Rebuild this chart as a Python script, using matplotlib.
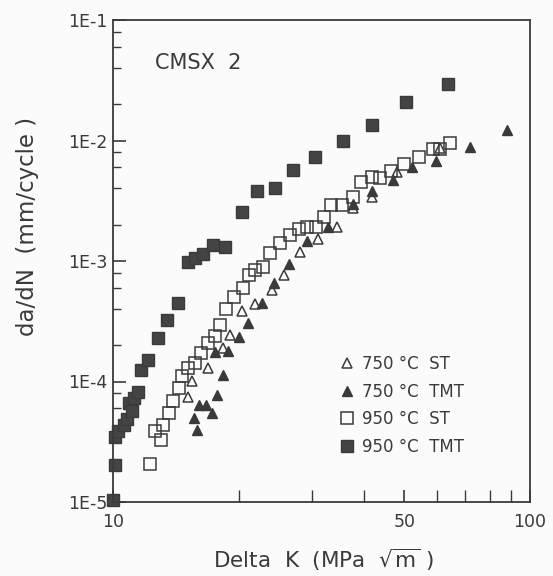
import matplotlib
matplotlib.use("Agg")
import matplotlib.pyplot as plt
from matplotlib.ticker import FixedLocator, NullFormatter, FixedFormatter

# ---- data (Delta K in MPa*sqrt(m), da/dN in mm/cycle) ----
tmt950_dk = [10.0, 10.1, 10.1, 10.3, 10.6, 10.8, 10.9, 11.1, 11.2, 11.5, 11.7, 12.1,
             12.8, 13.5, 14.3, 15.1, 15.7, 16.4, 17.4, 18.6, 20.4, 22.1, 24.5, 27.0,
             30.5, 35.6, 41.8, 50.5, 63.6]
tmt950_dadn = [1.04e-5, 2.03e-5, 3.46e-5, 3.88e-5, 4.36e-5, 4.89e-5, 6.63e-5, 5.69e-5,
               7.3e-5, 8.2e-5, 1.25e-4, 1.51e-4, 2.30e-4, 3.24e-4, 4.48e-4, 9.8e-4,
               1.06e-3, 1.14e-3, 1.36e-3, 1.31e-3, 2.55e-3, 3.81e-3, 4.03e-3, 5.69e-3,
               7.29e-3, 9.9e-3, 1.35e-2, 2.09e-2, 2.94e-2]

st950_dk = [12.3, 12.6, 13.0, 13.2, 13.6, 13.9, 14.4, 14.6, 15.1, 15.7, 16.3, 16.9,
            17.6, 18.1, 18.7, 19.5, 20.5, 21.2, 21.9, 22.9, 23.8, 25.1, 26.6, 27.9,
            29.2, 30.7, 32.1, 33.3, 35.4, 37.6, 39.4, 41.8, 43.7, 46.4, 49.9, 54.2,
            58.5, 60.8, 64.3]
st950_dadn = [2.07e-5, 3.88e-5, 3.27e-5, 4.36e-5, 5.48e-5, 6.89e-5, 8.83e-5, 1.11e-4,
              1.29e-4, 1.43e-4, 1.73e-4, 2.09e-4, 2.39e-4, 2.94e-4, 4.0e-4, 5.02e-4,
              5.97e-4, 7.66e-4, 8.41e-4, 8.91e-4, 1.16e-3, 1.41e-3, 1.64e-3, 1.84e-3,
              1.92e-3, 1.92e-3, 2.32e-3, 2.92e-3, 2.92e-3, 3.40e-3, 4.53e-3, 4.98e-3,
              4.89e-3, 5.58e-3, 6.38e-3, 7.29e-3, 8.5e-3, 8.5e-3, 9.53e-3]

tmt750_dk = [15.9, 15.6, 16.1, 16.7, 17.3, 17.8, 18.4, 17.6, 18.9, 20.0, 21.1, 22.8,
             24.3, 26.4, 29.2, 32.8, 37.6, 41.8, 46.9, 52.1, 59.5, 71.8, 88.1]
tmt750_dadn = [3.96e-5, 4.98e-5, 6.38e-5, 6.38e-5, 5.48e-5, 7.73e-5, 1.13e-4, 1.76e-4,
               1.79e-4, 2.34e-4, 3.06e-4, 4.48e-4, 6.56e-4, 9.44e-4, 1.47e-3, 1.91e-3,
               2.97e-3, 3.81e-3, 4.70e-3, 6.03e-3, 6.76e-3, 8.83e-3, 1.22e-2]

st750_dk = [15.1, 15.5, 16.9, 18.4, 19.1, 20.4, 21.9, 24.1, 25.7, 28.1, 31.0, 34.5,
            37.6, 41.8, 48.0, 60.8]
st750_dadn = [7.43e-5, 1.01e-4, 1.29e-4, 1.90e-4, 2.43e-4, 3.85e-4, 4.40e-4, 5.74e-4,
              7.66e-4, 1.19e-3, 1.52e-3, 1.91e-3, 2.75e-3, 3.40e-3, 5.48e-3, 8.67e-3]

labels = ["750 \u00b0C  ST", "750 \u00b0C  TMT", "950 \u00b0C  ST", "950 \u00b0C  TMT"]
ytick_vals = [1e-5, 1e-4, 1e-3, 1e-2, 1e-1]
ytick_labels = ["1E-5", "1E-4", "1E-3", "1E-2", "1E-1"]
xtick_vals = [10, 50, 100]
xtick_labels = ["10", "50", "100"]

ink = "#3a3a3a"
plt.rcParams["font.family"] = ["DejaVu Sans"]

fig = plt.figure(figsize=(5.53, 5.76), dpi=100, facecolor="#fbfbfb")
ax = fig.add_axes([113/553, 1-502/576, (530-113)/553, (502-20)/576])
ax.set_facecolor("#fbfbfb")
ax.set_xscale("log")
ax.set_yscale("log")
ax.set_xlim(10, 100)
ax.set_ylim(1e-5, 1e-1)

ax.plot(st750_dk, st750_dadn, linestyle="none", marker="^", markersize=7.5,
        markerfacecolor="none", markeredgecolor=ink, markeredgewidth=1.1, label=labels[0])
ax.plot(tmt750_dk, tmt750_dadn, linestyle="none", marker="^", markersize=7.5,
        markerfacecolor=ink, markeredgecolor=ink, markeredgewidth=1.0, label=labels[1])
ax.plot(st950_dk, st950_dadn, linestyle="none", marker="s", markersize=8.3,
        markerfacecolor="none", markeredgecolor=ink, markeredgewidth=1.1, label=labels[2])
ax.plot(tmt950_dk, tmt950_dadn, linestyle="none", marker="s", markersize=8.3,
        markerfacecolor="#444444", markeredgecolor=ink, markeredgewidth=1.0, label=labels[3],
        clip_on=False)

for s in ax.spines.values():
    s.set_color(ink)
    s.set_linewidth(1.3)

# y ticks
ax.yaxis.set_major_locator(FixedLocator(ytick_vals))
ax.yaxis.set_major_formatter(FixedFormatter(ytick_labels))
minor_y = [m * 10.0**e for e in range(-5, -1) for m in (2, 4, 6, 8)]
ax.yaxis.set_minor_locator(FixedLocator(minor_y))
ax.yaxis.set_minor_formatter(NullFormatter())
# x ticks
ax.xaxis.set_major_locator(FixedLocator(xtick_vals))
ax.xaxis.set_major_formatter(FixedFormatter(xtick_labels))
ax.xaxis.set_minor_locator(FixedLocator([20, 30, 40, 60, 70, 80, 90]))
ax.xaxis.set_minor_formatter(NullFormatter())

ax.tick_params(axis="y", which="major", direction="in", length=9, width=1.2,
               color=ink, labelcolor=ink, labelsize=12.5, pad=4)
ax.tick_params(axis="y", which="minor", direction="in", length=6, width=1.0, color=ink)
ax.tick_params(axis="x", which="major", direction="in", length=9, width=1.2,
               color=ink, labelcolor=ink, labelsize=12.5, pad=8)
ax.tick_params(axis="x", which="minor", direction="in", length=9, width=1.0, color=ink)
ax.tick_params(top=False, right=False)

ax.text(0.1, 0.91, "CMSX  2", transform=ax.transAxes, fontsize=15, color=ink,
        ha="left", va="center")

leg = ax.legend(loc="upper left", bbox_to_anchor=(0.542, 0.305), frameon=False,
                fontsize=12, labelcolor=ink, handletextpad=0.35, labelspacing=0.58,
                handlelength=1.0, borderaxespad=0.0, borderpad=0.0)

fig.text(323/553, 1-560/576, "Delta  K  (MPa  $\\sqrt{\\mathrm{m}}$ )", ha="center",
         va="center", fontsize=15.5, color=ink)
fig.text(28/553, 1-226/576, "da/dN  (mm/cycle )", rotation=90, ha="center",
         va="center", fontsize=16.5, color=ink)

fig.savefig("out.png", dpi=100, facecolor=fig.get_facecolor())
